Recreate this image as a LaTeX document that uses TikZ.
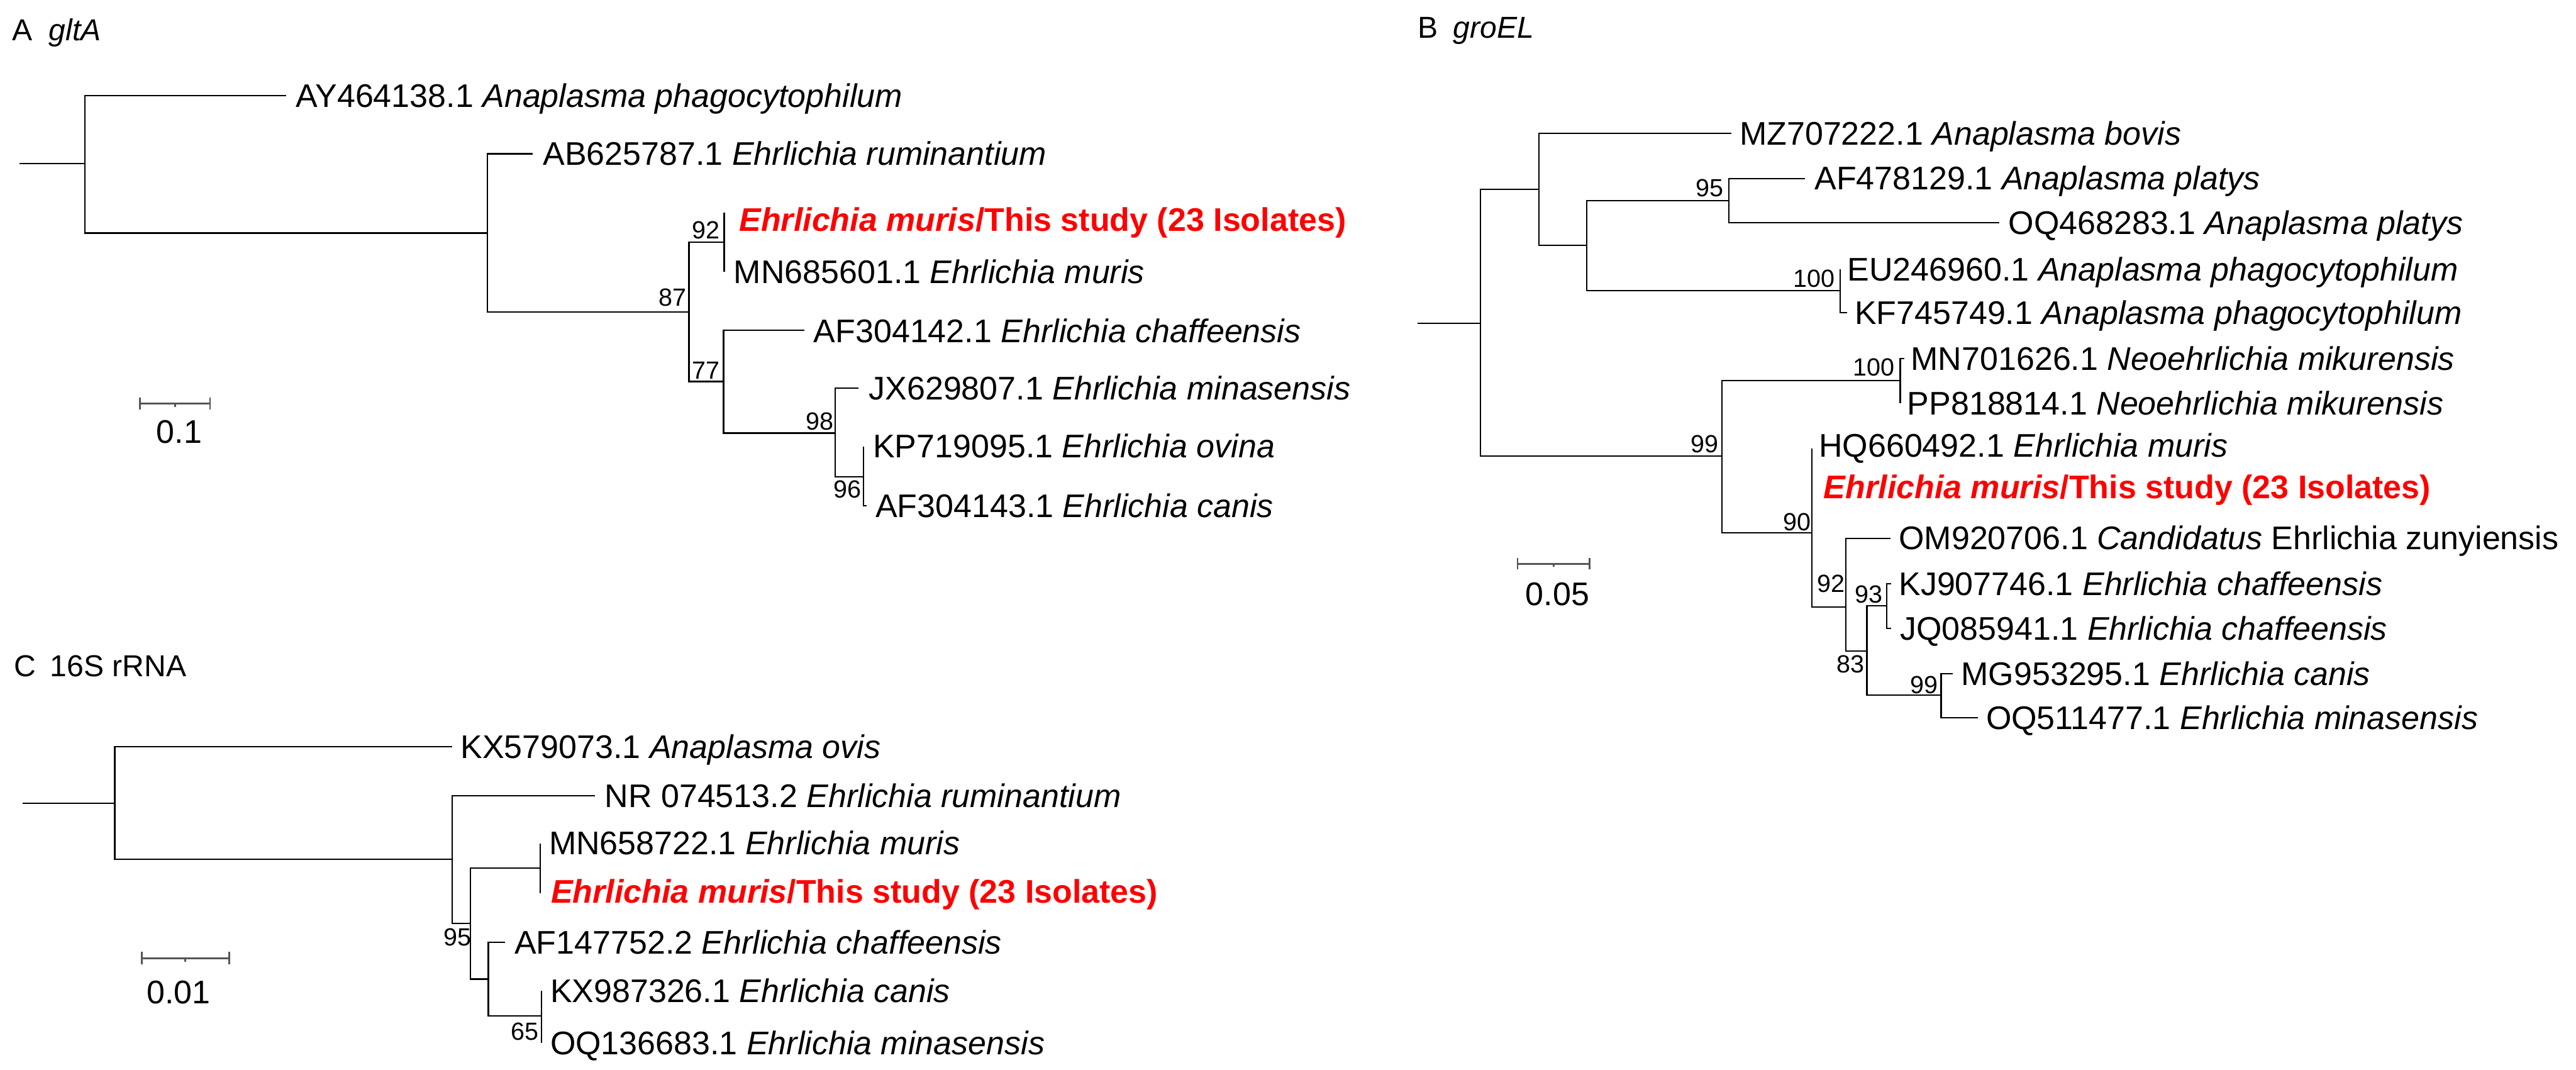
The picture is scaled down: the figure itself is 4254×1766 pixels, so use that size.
\documentclass[tikz,border=0pt]{standalone}
\usepackage{fontspec}
\setmainfont{Liberation Sans}
\definecolor{isored}{RGB}{255,0,0}
\definecolor{bargray}{RGB}{85,85,85}
\tikzset{
  brA/.style={line width=0.65pt, line join=miter},
  brB/.style={line width=0.55pt, line join=miter},
  sbar/.style={line width=0.7pt, draw=bargray},
  leaf/.style={anchor=base west, inner sep=0pt, font=\fontsize{13.5}{16}\selectfont},
  iso/.style={anchor=base west, inner sep=0pt, text=isored, font=\fontsize{13.5}{16}\selectfont\bfseries},
  boot/.style={anchor=base east, inner sep=0pt, font=\fontsize{10.25}{12}\selectfont},
  ttl/.style={anchor=base west, inner sep=0pt, font=\fontsize{12.5}{14}\selectfont},
  sclab/.style={anchor=base, inner sep=0pt, font=\fontsize{13.5}{16}\selectfont}
}
\begin{document}
\begin{tikzpicture}[x=0.25pt,y=-0.25pt]
\useasboundingbox (0,0) rectangle (4254,1766);

%================ Panel A : gltA =================
\node[ttl] (tA) at (19,67) {A};
\node[ttl] (tAg) at (80,67) {\itshape gltA};

\coordinate (A0) at (32,270);
\coordinate (A1) at (140,270);
\coordinate (A2) at (805,385);
\coordinate (A3) at (1138,515);
\coordinate (A4) at (1196,400);
\coordinate (A5) at (1195,630);
\coordinate (A6) at (1379,715);
\coordinate (A7) at (1426,787);
\coordinate (aAY) at (473,158);
\coordinate (aAB) at (880,254);
\coordinate (aIS) at (1196,351);
\coordinate (aMN) at (1196,449);
\coordinate (aAF2) at (1328,545);
\coordinate (aJX) at (1418,641);
\coordinate (aKP) at (1426,737);
\coordinate (aAF3) at (1431,835);

\draw[brA] (A0) -- (A1);
\draw[brA] (A1) |- (aAY);
\draw[brA] (A1) |- (A2);
\draw[brA] (A2) |- (aAB);
\draw[brA] (A2) |- (A3);
\draw[brA] (A3) |- (A4);
\draw[brA] (A3) |- (A5);
\draw[brA] (A4) |- (aIS);
\draw[brA] (A4) |- (aMN);
\draw[brA] (A5) |- (aAF2);
\draw[brA] (A5) |- (A6);
\draw[brA] (A6) |- (aJX);
\draw[brA] (A6) |- (A7);
\draw[brA] (A7) |- (aKP);
\draw[brA] (A7) |- (aAF3);

\node[leaf] (lAY) at (488,177) {AY464138.1 \textit{Anaplasma phagocytophilum}};
\node[leaf] (lAB) at (896,273) {AB625787.1 \textit{Ehrlichia ruminantium}};
\node[iso] (lISa) at (1220,382) {\textit{Ehrlichia muris}/This study (23 Isolates)};
\node[leaf] (lMNa) at (1211,468) {MN685601.1 \textit{Ehrlichia muris}};
\node[leaf] (lAF2) at (1343,565) {AF304142.1 \textit{Ehrlichia chaffeensis}};
\node[leaf] (lJX) at (1434,660) {JX629807.1 \textit{Ehrlichia minasensis}};
\node[leaf] (lKP) at (1441,756) {KP719095.1 \textit{Ehrlichia ovina}};
\node[leaf] (lAF3) at (1445,854) {AF304143.1 \textit{Ehrlichia canis}};

\node[boot] (bA3) at (1134,505) {87};
\node[boot] (bA4) at (1189,394) {92};
\node[boot] (bA5) at (1189,626) {77};
\node[boot] (bA6) at (1377,710) {98};
\node[boot] (bA7) at (1423,822) {96};

\coordinate (sA1) at (231,666);
\coordinate (sA2) at (347,666);
\coordinate (sAm) at (289,666);
\draw[sbar] (sA1) -- (sA2);
\draw[sbar] ([yshift=2.5pt]sA1) -- ([yshift=-2.5pt]sA1);
\draw[sbar] ([yshift=2.5pt]sA2) -- ([yshift=-2.5pt]sA2);
\draw[sbar] (sAm) -- ([yshift=-1.5pt]sAm);
\node[sclab] (lsA) at (296,732) {0.1};

%================ Panel C : 16S rRNA =================
\node[ttl] (tC) at (23,1117) {C};
\node[ttl] (tCg) at (82,1117) {16S rRNA};

\coordinate (C0) at (37,1326);
\coordinate (C1) at (189.5,1326);
\coordinate (C2) at (746.5,1419);
\coordinate (C3) at (777,1525);
\coordinate (C4) at (892,1433);
\coordinate (C5) at (806.5,1616.5);
\coordinate (C6) at (894.5,1677);
\coordinate (cKX5) at (747,1233);
\coordinate (cNR) at (983,1313.6);
\coordinate (cMN) at (892,1393);
\coordinate (cIS) at (892,1475);
\coordinate (cAF) at (834,1555.5);
\coordinate (cKX9) at (894.5,1636);
\coordinate (cOQ) at (894.5,1722);

\draw[brB] (C0) -- (C1);
\draw[brB] (C1) |- (cKX5);
\draw[brB] (C1) |- (C2);
\draw[brB] (C2) |- (cNR);
\draw[brB] (C2) |- (C3);
\draw[brB] (C3) |- (C4);
\draw[brB] (C3) |- (C5);
\draw[brB] (C4) |- (cMN);
\draw[brB] (C4) |- (cIS);
\draw[brB] (C5) |- (cAF);
\draw[brB] (C5) |- (C6);
\draw[brB] (C6) |- (cKX9);
\draw[brB] (C6) |- (cOQ);

\node[leaf] (lKX5) at (760,1252) {KX579073.1 \textit{Anaplasma ovis}};
\node[leaf] (lNR) at (998,1333) {NR 074513.2 \textit{Ehrlichia ruminantium}};
\node[leaf] (lMNc) at (906,1411) {MN658722.1 \textit{Ehrlichia muris}};
\node[iso] (lISc) at (909,1491) {\textit{Ehrlichia muris}/This study (23 Isolates)};
\node[leaf] (lAFc) at (849,1575) {AF147752.2 \textit{Ehrlichia chaffeensis}};
\node[leaf] (lKX9) at (908,1655) {KX987326.1 \textit{Ehrlichia canis}};
\node[leaf] (lOQc) at (908,1741) {OQ136683.1 \textit{Ehrlichia minasensis}};

\node[boot] (bC3) at (779,1562) {95};
\node[boot] (bC6) at (890,1717) {65};

\coordinate (sC1) at (234.5,1582);
\coordinate (sC2) at (378.5,1582);
\coordinate (sCm) at (306,1582);
\draw[sbar] (sC1) -- (sC2);
\draw[sbar] ([yshift=2.6pt]sC1) -- ([yshift=-2.6pt]sC1);
\draw[sbar] ([yshift=2.6pt]sC2) -- ([yshift=-2.6pt]sC2);
\draw[sbar] (sCm) -- ([yshift=-1.6pt]sCm);
\node[sclab] (lsC) at (295,1657) {0.01};

%================ Panel B : groEL =================
\node[ttl] (tB) at (2341,62.5) {B};
\node[ttl] (tBg) at (2399,62.5) {\itshape groEL};

\coordinate (B0) at (2341,533.7);
\coordinate (B1) at (2445,533.7);
\coordinate (B2) at (2541,312.7);
\coordinate (B3) at (2620,404.6);
\coordinate (B4) at (2855,331.7);
\coordinate (B5) at (3039,479.7);
\coordinate (B6) at (2843.5,753);
\coordinate (B7) at (3138,628.4);
\coordinate (B8) at (2992,879.6);
\coordinate (B9) at (3048,1002);
\coordinate (B10) at (3083,1074.6);
\coordinate (B11) at (3116,1000);
\coordinate (B12) at (3205.5,1147.6);
\coordinate (bMZ) at (2859,220);
\coordinate (bAF4) at (2981,294.5);
\coordinate (bOQ4) at (3302,368);
\coordinate (bEU) at (3039,444.6);
\coordinate (bKF) at (3050,516);
\coordinate (bMN7) at (3145,592);
\coordinate (bPP) at (3138,665.6);
\coordinate (bHQ) at (2992,740.7);
\coordinate (bOM) at (3122,888.7);
\coordinate (bKJ) at (3123,963.7);
\coordinate (bJQ) at (3123,1037.4);
\coordinate (bMG) at (3225,1112.5);
\coordinate (bOQ5) at (3266,1184.7);

\draw[brB] (B0) -- (B1);
\draw[brB] (B1) |- (B2);
\draw[brB] (B1) |- (B6);
\draw[brB] (B2) |- (bMZ);
\draw[brB] (B2) |- (B3);
\draw[brB] (B3) |- (B4);
\draw[brB] (B3) |- (B5);
\draw[brB] (B4) |- (bAF4);
\draw[brB] (B4) |- (bOQ4);
\draw[brB] (B5) |- (bEU);
\draw[brB] (B5) |- (bKF);
\draw[brB] (B6) |- (B7);
\draw[brB] (B6) |- (B8);
\draw[brB] (B7) |- (bMN7);
\draw[brB] (B7) |- (bPP);
\draw[brB] (B8) |- (bHQ);
\draw[brB] (B8) |- (B9);
\draw[brB] (B9) |- (bOM);
\draw[brB] (B9) |- (B10);
\draw[brB] (B10) |- (B11);
\draw[brB] (B10) |- (B12);
\draw[brB] (B11) |- (bKJ);
\draw[brB] (B11) |- (bJQ);
\draw[brB] (B12) |- (bMG);
\draw[brB] (B12) |- (bOQ5);

\node[leaf] (lMZ) at (2872,239) {MZ707222.1 \textit{Anaplasma bovis}};
\node[leaf] (lAF4) at (2996,313.5) {AF478129.1 \textit{Anaplasma platys}};
\node[leaf] (lOQ4) at (3316,387) {OQ468283.1 \textit{Anaplasma platys}};
\node[leaf] (lEU) at (3050,463.6) {EU246960.1 \textit{Anaplasma phagocytophilum}};
\node[leaf] (lKF) at (3062,535) {KF745749.1 \textit{Anaplasma phagocytophilum}};
\node[leaf] (lMN7) at (3155,611) {MN701626.1 \textit{Neoehrlichia mikurensis}};
\node[leaf] (lPP) at (3149,684.6) {PP818814.1 \textit{Neoehrlichia mikurensis}};
\node[leaf] (lHQ) at (3003,755) {HQ660492.1 \textit{Ehrlichia muris}};
\node[iso] (lISb) at (3011,823) {\textit{Ehrlichia muris}/This study (23 Isolates)};
\node[leaf] (lOM) at (3135,907.7) {OM920706.1 \textit{Candidatus} Ehrlichia zunyiensis};
\node[leaf] (lKJ) at (3135,982.7) {KJ907746.1 \textit{Ehrlichia chaffeensis}};
\node[leaf] (lJQ) at (3137,1056.4) {JQ085941.1 \textit{Ehrlichia chaffeensis}};
\node[leaf] (lMG) at (3238,1131.5) {MG953295.1 \textit{Ehrlichia canis}};
\node[leaf] (lOQ5) at (3279,1203.7) {OQ511477.1 \textit{Ehrlichia minasensis}};

\node[boot] (bB4) at (2847,325) {95};
\node[boot] (bB5) at (3031,474) {100};
\node[boot] (bB6) at (2839,747.7) {99};
\node[boot] (bB7) at (3129,621) {100};
\node[boot] (bB8) at (2991,876) {90};
\node[boot] (bB9) at (3047,977.8) {92};
\node[boot] (bB11) at (3110,995) {93};
\node[boot] (bB10) at (3080,1111) {83};
\node[boot] (bB12) at (3201,1144.7) {99};

\coordinate (sB1) at (2506,930.8);
\coordinate (sB2) at (2625,930.8);
\coordinate (sBm) at (2565.7,930.8);
\draw[sbar] (sB1) -- (sB2);
\draw[sbar] ([yshift=2.4pt]sB1) -- ([yshift=-2.4pt]sB1);
\draw[sbar] ([yshift=2.4pt]sB2) -- ([yshift=-2.4pt]sB2);
\draw[sbar] (sBm) -- ([yshift=-1.3pt]sBm);
\node[sclab] (lsB) at (2572,1000) {0.05};
\end{tikzpicture}
\end{document}
